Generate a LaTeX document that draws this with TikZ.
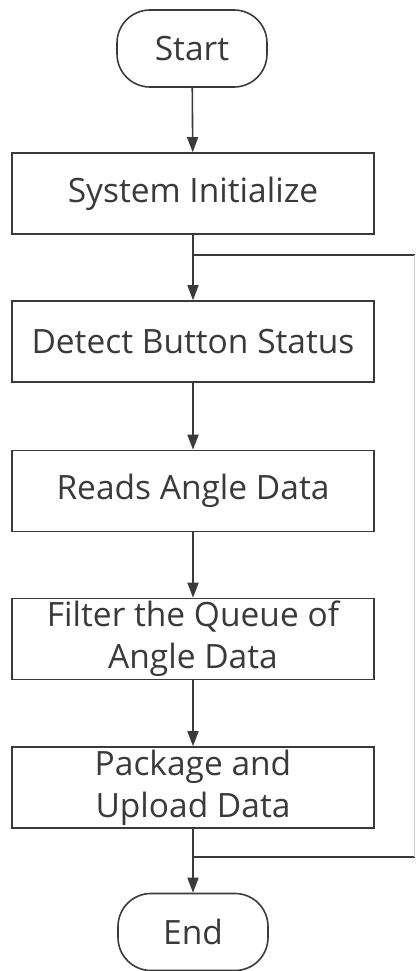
\documentclass[tikz,border=0pt]{standalone}
\usepackage{fontspec}
\setmainfont{Open Sans}
\usetikzlibrary{arrows.meta}
\definecolor{ink}{HTML}{3A3A3A}
\begin{document}
\begin{tikzpicture}[x=1pt,y=-1pt,
  conn/.style={draw=ink, line width=1.6pt},
  stepbox/.style={draw=ink, line width=1.6pt, rectangle, minimum width=362pt, minimum height=81pt,
    inner sep=0pt, align=center, font=\fontsize{33.5}{42}\selectfont, text=ink},
  term/.style={stepbox, minimum width=150pt, minimum height=77pt, rounded corners=33pt},
  arr/.style={conn, -{Triangle[length=15pt,width=11pt]}}]
\useasboundingbox (0,0) rectangle (416,971);
\node[term] (start) at (192,48.5) {Start};
\node[stepbox] (init) at (193,193.5) {System Initialize};
\node[stepbox] (detect) at (193,341.5) {Detect Button Status};
\node[stepbox] (reads) at (193,491) {Reads Angle Data};
\node[stepbox] (filter) at (193,639) {Filter the Queue of\\Angle Data};
\node[stepbox] (pack) at (193,787.5) {Package and\\Upload Data};
\node[term] (end) at (193,932) {End};
\coordinate (j1) at (193,255);
\coordinate (j2) at (193,857);
\coordinate (r1) at (414.5,255);
\coordinate (r2) at (414.5,857);
\draw[arr] (start) -- (init);
\draw[arr] (init) -- (detect);
\draw[arr] (detect) -- (reads);
\draw[arr] (reads) -- (filter);
\draw[arr] (filter) -- (pack);
\draw[arr] (pack) -- (end);
\draw[conn] (j1) -- (r1);
\draw[conn] (j2) -- (r2);
\draw[draw=ink!25, line width=1pt] (r1) -- (r2);
\end{tikzpicture}
\end{document}
